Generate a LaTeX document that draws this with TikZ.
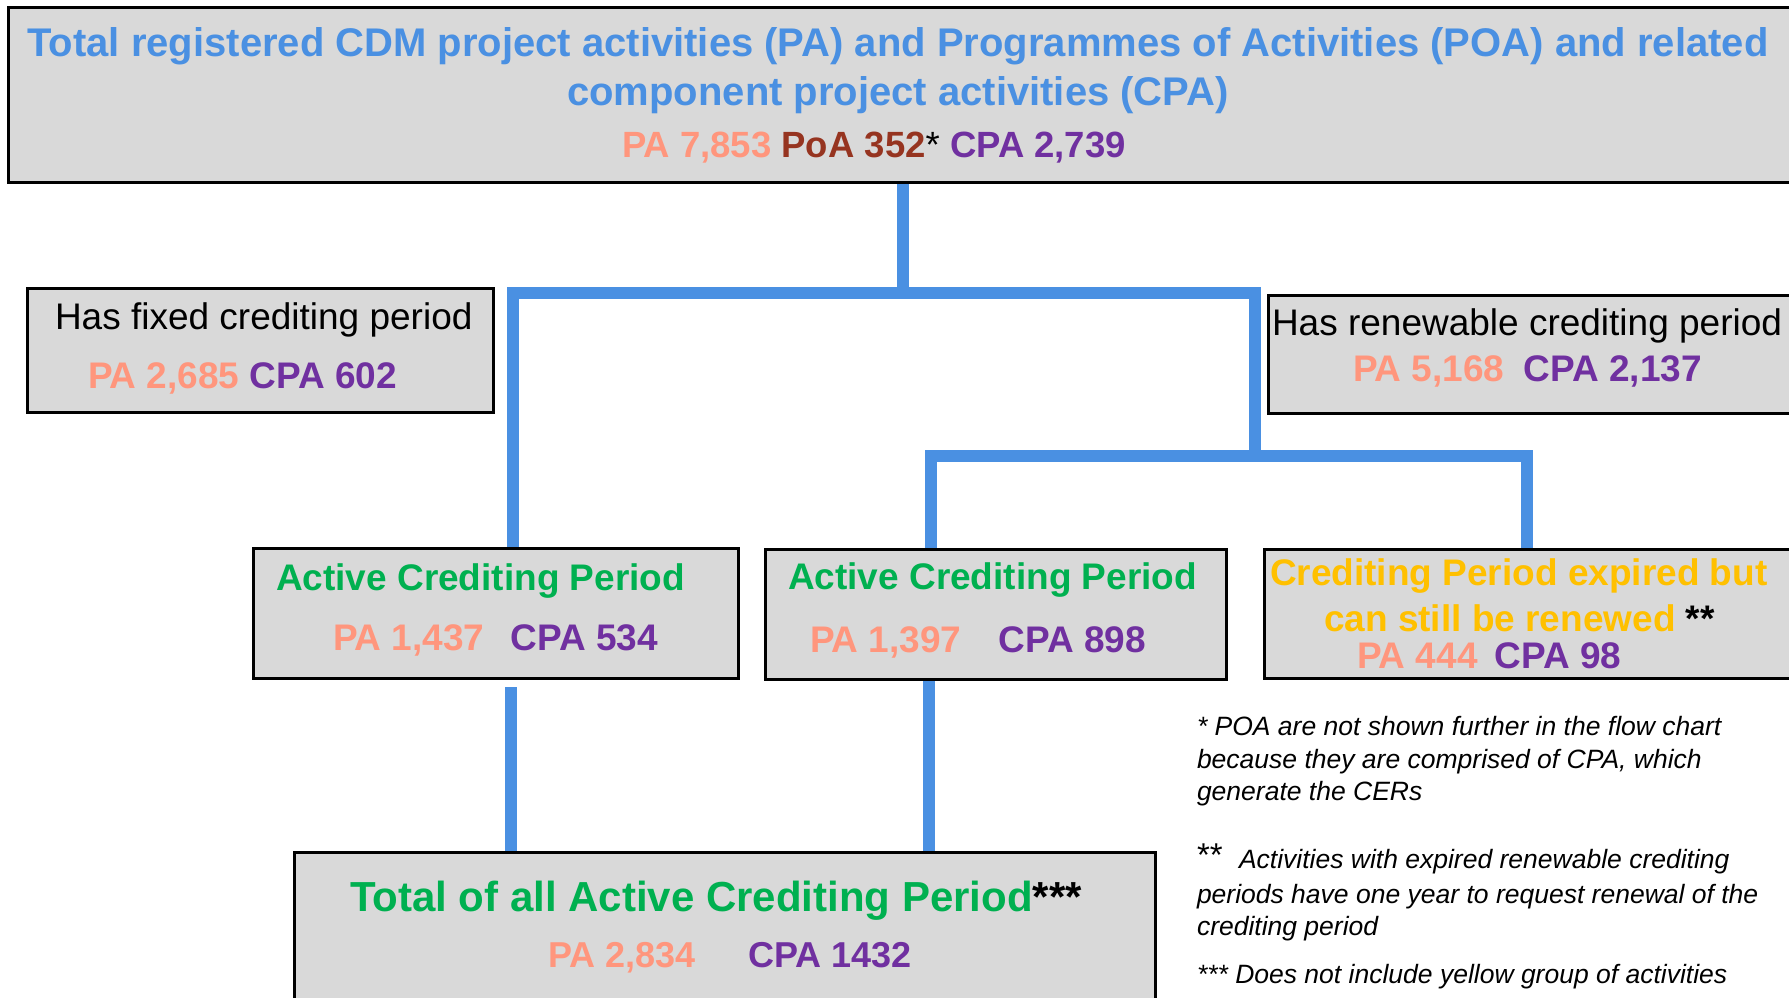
\documentclass[tikz,border=0pt]{standalone}
\usepackage{fontspec}
\setmainfont{Liberation Sans}
\usetikzlibrary{backgrounds}
\definecolor{cblue}{RGB}{74,144,226}
\definecolor{boxgray}{RGB}{217,217,217}
\definecolor{pacol}{RGB}{255,150,125}
\definecolor{poacol}{RGB}{150,52,32}
\definecolor{cpacol}{RGB}{112,48,160}
\definecolor{grn}{RGB}{0,176,80}
\definecolor{ylw}{RGB}{255,192,0}
\newcommand{\fsz}[1]{\fontsize{#1}{#1}\selectfont}
\tikzset{
  box/.style={draw=black, line width=3pt, fill=boxgray, rectangle, inner sep=0pt, outer sep=0pt},
  conn/.style={draw=cblue, line width=12pt},
  txt/.style={anchor=base west, inner sep=0pt, outer sep=0pt},
  ctxt/.style={anchor=base, inner sep=0pt, outer sep=0pt},
  note/.style={txt, font=\fsz{26.5}\itshape, text=black},
}
\begin{document}
\begin{tikzpicture}[x=1pt,y=-1pt]
\useasboundingbox (0,0) rectangle (1789,998);
\clip (0,0) rectangle (1789,998);

% boxes
\node[box, minimum width=1792pt, minimum height=174pt] (top) at (904,95) {};
\node[box, minimum width=466pt, minimum height=124pt] (fixed) at (260,350) {};
\node[box, minimum width=532pt, minimum height=118pt] (renew) at (1534,354) {};
\node[box, minimum width=485pt, minimum height=130pt] (a1) at (495.5,613) {};
\node[box, minimum width=461pt, minimum height=130pt] (a2) at (995.5,614) {};
\node[box, minimum width=536pt, minimum height=129pt] (y1) at (1532,613.5) {};
\node[box, minimum width=861pt, minimum height=158pt] (tot) at (724.5,931) {};

% connectors
\coordinate (j1) at (903,293);
\coordinate (jL) at (513,293);
\coordinate (jR) at (1255,293);
\coordinate (j2) at (1255,456);
\coordinate (j2L) at (931,456);
\coordinate (j2R) at (1527,456);
\coordinate (bL) at (511,687);
\coordinate (bM) at (929,679);
\begin{pgfonlayer}{background}
\fill[white] (0,0) rectangle (1789,998);
\draw[conn] (top.south -| j1) -- (j1);
\draw[conn] (a1.north -| jL) -- (jL) -- (jR) -- (j2);
\draw[conn] (a2.north -| j2L) -- (j2L) -- (j2R) -- (y1.north -| j2R);
\draw[conn] (bL) -- (tot.north -| bL);
\draw[conn] (a2.south -| bM) -- (tot.north -| bM);
\end{pgfonlayer}

% top box text
\node[ctxt, font=\fsz{40}\bfseries, text=cblue] (t1) at (898,57)
  {Total registered CDM project activities (PA) and Programmes of Activities (POA) and related};
\node[ctxt, font=\fsz{40}\bfseries, text=cblue] (t2) at (898,105)
  {component project activities (CPA)};
\node[txt, font=\fsz{36.5}\bfseries] (t3) at (622,157)
  {\textcolor{pacol}{PA 7,853} \textcolor{poacol}{PoA 352}{\mdseries *} \textcolor{cpacol}{CPA 2,739}};

% fixed
\node[txt, font=\fsz{37}, text=black] (f1) at (55,329) {Has fixed crediting period};
\node[txt, font=\fsz{37}\bfseries] (f2) at (88,388)
  {\textcolor{pacol}{PA 2,685} \textcolor{cpacol}{CPA 602}};

% renewable
\node[txt, font=\fsz{37}, text=black] (r1) at (1272,335) {Has renewable crediting period};
\node[txt, font=\fsz{37}\bfseries] (r2) at (1353,381)
  {\textcolor{pacol}{PA 5,168}\hspace{19pt}\textcolor{cpacol}{CPA 2,137}};

% active 1
\node[txt, font=\fsz{37}\bfseries, text=grn] (a1t) at (276,590) {Active Crediting Period};
\node[txt, font=\fsz{37}\bfseries] (a1n) at (333,650)
  {\textcolor{pacol}{PA 1,437}\hspace{26pt}\textcolor{cpacol}{CPA 534}};

% active 2
\node[txt, font=\fsz{37}\bfseries, text=grn] (a2t) at (788,589) {Active Crediting Period};
\node[txt, font=\fsz{37}\bfseries] (a2n) at (810,652)
  {\textcolor{pacol}{PA 1,397}\hspace{37pt}\textcolor{cpacol}{CPA 898}};

% yellow
\node[txt, font=\fsz{37}\bfseries, text=ylw] (y1a) at (1270,585) {Crediting Period expired but};
\node[txt, font=\fsz{37}\bfseries, text=ylw] (y1b) at (1324,631) {can still be renewed \textcolor{black}{**}};
\node[txt, font=\fsz{37}\bfseries] (y1c) at (1357,668)
  {\textcolor{pacol}{PA 444}\hspace{17pt}\textcolor{cpacol}{CPA 98}};

% total
\node[txt, font=\fsz{42}\bfseries, text=grn] (tt1) at (350,911)
  {Total of all Active Crediting Period\textcolor{black}{***}};
\node[txt, font=\fsz{36}\bfseries] (tt2) at (548,967)
  {\textcolor{pacol}{PA 2,834}\hspace{53pt}\textcolor{cpacol}{CPA 1432}};

% notes
\node[note] (n1) at (1197,735) {* POA are not shown further in the flow chart};
\node[note] (n2) at (1197,768) {because they are comprised of CPA, which};
\node[note] (n3) at (1197,800) {generate the CERs};
\node[txt, font=\fsz{33}, text=black] (n4s) at (1197,866) {**};
\node[note] (n4) at (1239,868) {Activities with expired renewable crediting};
\node[note] (n5) at (1197,903) {periods have one year to request renewal of the};
\node[note] (n6) at (1197,935) {crediting period};
\node[note] (n7) at (1197,983) {*** Does not include yellow group of activities};
\end{tikzpicture}
\end{document}
